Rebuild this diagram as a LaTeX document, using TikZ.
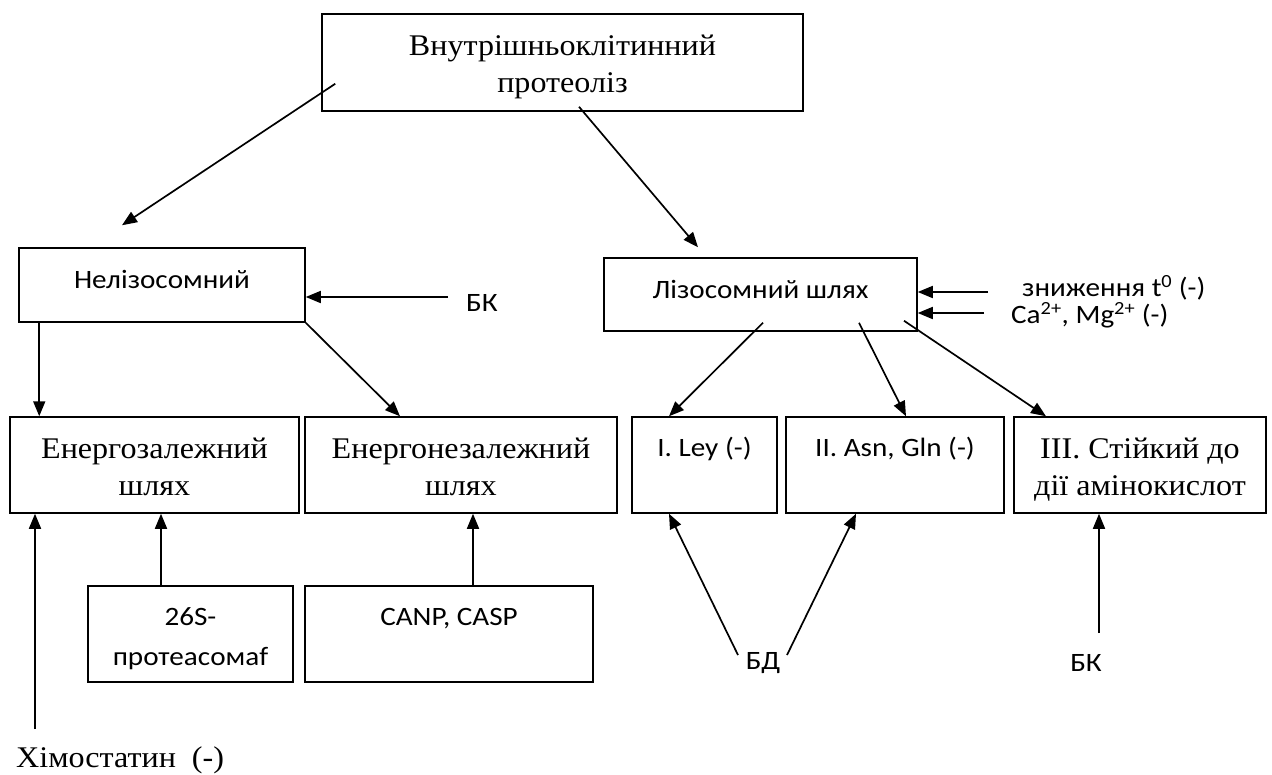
\documentclass[tikz,border=0pt]{standalone}
\usepackage{fontspec}
\setmainfont{Liberation Serif}[FakeStretch=1.07]
\newfontfamily\calibri{Carlito}[FakeStretch=1.1]
\usepackage{tikz}
\usetikzlibrary{arrows.meta}

\begin{document}
\begin{tikzpicture}[x=1pt, y=-1pt,
    box/.style={draw, line width=1.5pt, inner sep=0pt, align=center},
    serif/.style={font=\fontsize{30}{37}\selectfont},
    sans/.style={font=\calibri\fontsize{26.5}{40}\selectfont},
    serif2/.style={serif, text height=60pt, text depth=0pt},
    sans1/.style={sans, text height=19pt, text depth=11.5pt},
    sans2/.style={sans, text height=62.6pt, text depth=0pt},
    arr/.style={-{Triangle[length=15pt,width=12pt]}, line width=1.7pt}]
    \useasboundingbox[fill=white] (0,0) rectangle (1272,774);
    % Top box
    \node[box, serif2, minimum width=481pt, minimum height=97pt] (intra) at (562.5,62.5)
        {Внутрішньоклітинний\\протеоліз};
    % Second row
    \node[box, sans1, minimum width=286pt, minimum height=74pt] (nelys) at (162,285)
        {Нелізосомний};
    \node[box, sans1, minimum width=313pt, minimum height=73pt] (lys) at (760.5,294.5)
        {Лізосомний шлях};
    % Third row
    \node[box, serif2, minimum width=289pt, minimum height=96pt] (endep) at (154.5,465)
        {Енергозалежний\\шлях};
    \node[box, serif2, minimum width=312pt, minimum height=96pt] (enindep) at (461,465)
        {Енергонезалежний\\шлях};
    \node[box, sans2, minimum width=145pt, minimum height=96pt] (ley) at (704.5,465)
        {I. Ley (-)\\~};
    \node[box, sans2, minimum width=218pt, minimum height=96pt] (asn) at (895,465)
        {II. Asn, Gln (-)\\~};
    \node[box, serif2, minimum width=252pt, minimum height=96pt] (resist) at (1140,465)
        {III. Стійкий до\\дії амінокислот};
    % Fourth row
    \node[box, sans2, minimum width=205pt, minimum height=96pt] (prot26) at (190.5,634)
        {26S-\\протеасомаf};
    \node[box, sans2, minimum width=288pt, minimum height=96pt] (canp) at (449,634)
        {CANP, CASP\\~};
    % Free labels
    \node[sans, anchor=west, inner sep=0pt] (bk1) at (466,303) {БК};
    \node[sans, anchor=west, inner sep=0pt] (decr) at (1022,288) {зниження t\textsuperscript{0} (-)};
    \node[sans, anchor=west, inner sep=0pt] (ions) at (1011,315)
        {Ca\textsuperscript{2+}, Mg\textsuperscript{2+} (-)};
    \node[sans, inner sep=0pt] (bd) at (763,663) {БД};
    \node[sans, inner sep=0pt] (bk2) at (1086,663) {БК};
    \node[serif, anchor=west, inner sep=0pt] (chym) at (16,760) {Хімостатин\ \ (-)};
    % Tails of the arrows from below
    \coordinate (chym-top) at ([shift={(19,-31)}]chym.west);
    \coordinate (bk2-top) at ([shift={(13,-30)}]bk2.center);
    % Arrows from the top box
    \draw[arr] ([shift={(14,-28)}]intra.south west) -- ([shift={(-40,-22)}]nelys.north);
    \draw[arr] ([shift={(16.5,-5)}]intra.south) -- ([shift={(-62.5,-10)}]lys.north);
    % Inhibitors of the second row
    \draw[arr] ([shift={(-18,-6)}]bk1.west) -- ([shift={(0,12)}]nelys.east);
    \draw[arr] ([shift={(-34,4)}]decr.west) -- ([shift={(0,-2.5)}]lys.east);
    \draw[arr] ([shift={(-27,-2)}]ions.west) -- ([shift={(0,18.5)}]lys.east);
    % Non-lysosomal branches
    \draw[arr] ([shift={(21,0)}]nelys.south west) -- ([shift={(30,0)}]endep.north west);
    \draw[arr] (nelys.south east) -- ([shift={(-61,0)}]enindep.north);
    % Lysosomal branches
    \draw[arr] ([shift={(2.5,-9)}]lys.south) -- ([shift={(-35.5,0)}]ley.north);
    \draw[arr] ([shift={(98.5,-9)}]lys.south) -- ([shift={(11,0)}]asn.north);
    \draw[arr] ([shift={(143.5,-11)}]lys.south) -- ([shift={(-94,0)}]resist.north);
    % Arrows from below
    \draw[arr] ([shift={(-29.5,0)}]prot26.north) -- ([shift={(-29.5,0)}]prot26.north |- endep.south);
    \draw[arr] ([shift={(24,0)}]canp.north) -- ([shift={(24,0)}]canp.north |- enindep.south);
    \draw[arr] (chym-top) -- (chym-top |- endep.south);
    \draw[arr] ([shift={(-25,-8)}]bd.center) -- ([shift={(-35.5,0)}]ley.south);
    \draw[arr] ([shift={(24,-8)}]bd.center) -- ([shift={(-39,0)}]asn.south);
    \draw[arr] (bk2-top) -- (bk2-top |- resist.south);
\end{tikzpicture}
\end{document}
